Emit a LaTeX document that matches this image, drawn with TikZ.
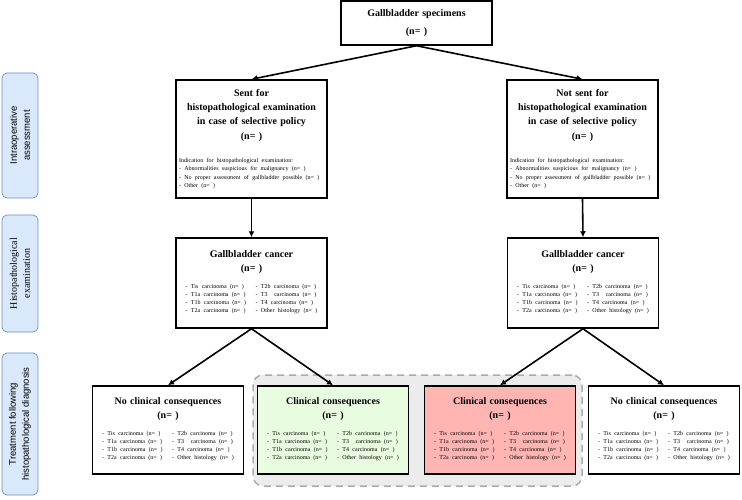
\documentclass[tikz,border=0pt]{standalone}
\usepackage{fontspec}
\setmainfont{Liberation Serif}[BoldFont={Liberation Serif Bold}]
\setsansfont{Liberation Sans}
\usetikzlibrary{positioning}
\usetikzlibrary{calc}
\usetikzlibrary{arrows.meta}

\definecolor{sidefill}{HTML}{DAE8FC}
\definecolor{sideline}{HTML}{6C8EBF}
\definecolor{consgreen}{HTML}{E8FDE0}
\definecolor{consred}{HTML}{FFB5B2}

\newcommand{\titlefont}{\bfseries\fontsize{10}{14.3}\selectfont}
\newcommand{\listfont}{\normalfont\fontsize{6}{8.3}\selectfont}
% two columns of T stages, used in every lower box
\newcommand{\stagelist}{%
    \begin{tabular}[t]{@{}l@{}l@{}}
    \makebox[70pt][l]{- Tis carcinoma (n= )} & - T2b carcinoma (n= )\\
    \makebox[70pt][l]{- T1a carcinoma (n= )} & - T3\ \ carcinoma (n= )\\
    \makebox[70pt][l]{- T1b carcinoma (n= )} & - T4 carcinoma (n= )\\
    \makebox[70pt][l]{- T2a carcinoma (n= )} & - Other histology (n= )
    \end{tabular}}
\newcommand{\indication}{%
    \parbox[t]{\linewidth}{\raggedright
    Indication for histopathological examination:\\
    - Abnormalities suspicious for malignancy (n= )\\
    - No proper assessment of gallbladder possible (n= )\\
    - Other (n= )}}

\tikzset{
    % Arrow heads on all connectors
    >={Latex[length=6pt, width=6pt]},
%
    % Black framed box of the flow chart
    flow box/.style={draw, line width=1.5pt, fill=white, inner sep=3pt,
        text width=145pt, align=center, minimum width=151pt},
%
    % Blue rounded label at the left margin
    side box/.style={draw=sideline, fill=sidefill, line width=0.7pt,
        rounded corners=5pt, rotate=90, minimum height=36pt, align=center,
        font=\sffamily\fontsize{9.5}{13}\selectfont},
%
    % Grey dashed frame round the two clinical boxes
    group box/.style={draw=gray!65, fill=gray!15, line width=1.5pt,
        dash pattern=on 7pt off 5pt, rounded corners=10pt},
%
    % Connector between boxes
    link/.style={->, line width=1.6pt}}

\begin{document}
\begin{tikzpicture}[x=1pt, y=-1pt]

\useasboundingbox (0,0) rectangle (742,500);

% left margin labels
\node [side box, minimum width=125pt] (intraop) at (20,135.5)
    {Intraoperative\\assessment};
\node [side box, minimum width=117pt, font=\rmfamily\fontsize{10}{13}\selectfont]
    (histo) at (20,273.5) {Histopathological\\examination};
\node [side box, minimum width=142pt] (treatment) at (20,424)
    {Treatment following\\histopathological diagnosis};

% top of the chart
\node [flow box, minimum height=44pt] (specimens) at (416.5,23)
    {\titlefont Gallbladder specimens\\[4pt](n= )\par\vspace{6pt}};

\node [flow box, minimum height=118pt] (sent) at (251.5,139)
    {\titlefont Sent for\\histopathological examination\\
    in case of selective policy\\(n= )\par\vspace{15pt}\listfont\indication
    \par\vspace{9pt}};
\node [flow box, minimum height=118pt] (not sent) at (582.5,139)
    {\titlefont Not sent for\\histopathological examination\\
    in case of selective policy\\(n= )\par\vspace{15pt}\listfont\indication
    \par\vspace{9pt}};

\node [flow box, minimum height=90pt] (cancer left) at (251.5,283)
    {\titlefont Gallbladder cancer\\(n= )\par\vspace{8pt}\listfont\stagelist
    \par\vspace{4pt}};
\node [flow box, minimum height=90pt] (cancer right) at (583,283)
    {\titlefont Gallbladder cancer\\(n= )\par\vspace{8pt}\listfont\stagelist
    \par\vspace{4pt}};

% bottom row
\node [group box, minimum width=329pt, minimum height=111pt]
    (clinical group) at (417.5,430.5) {};

\node [flow box, minimum height=88pt] (none left) at (168,430)
    {\titlefont No clinical consequences\\(n= )\par\vspace{8pt}\listfont\stagelist
    \par\vspace{6pt}};
\node [flow box, minimum height=88pt, fill=consgreen] (clinical left) at (333,430)
    {\titlefont Clinical consequences\\(n= )\par\vspace{8pt}\listfont\stagelist
    \par\vspace{6pt}};
\node [flow box, minimum height=88pt, fill=consred] (clinical right) at (500,430)
    {\titlefont Clinical consequences\\(n= )\par\vspace{8pt}\listfont\stagelist
    \par\vspace{6pt}};
\node [flow box, minimum height=88pt] (none right) at (664,430)
    {\titlefont No clinical consequences\\(n= )\par\vspace{8pt}\listfont\stagelist
    \par\vspace{6pt}};

\draw [link] (specimens.south) -- (sent.north);
\draw [link] (specimens.south) -- (not sent.north);
\draw [link] (sent.south) -- (cancer left.north);
\draw [link] (not sent.south) -- (cancer right.north);
\draw [link] (cancer left.south) -- (none left.north);
\draw [link] (cancer left.south) -- (clinical left.north);
\draw [link] (cancer right.south) -- (clinical right.north);
\draw [link] (cancer right.south) -- (none right.north);

\end{tikzpicture}
\end{document}
